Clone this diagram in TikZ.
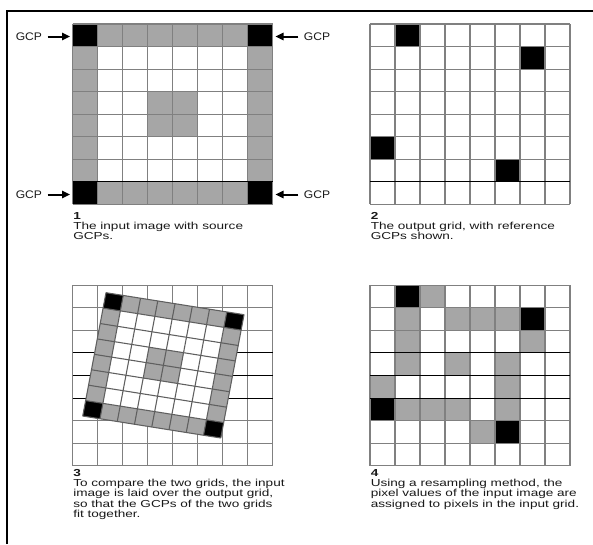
\documentclass[tikz,border=0pt]{standalone}
\usepackage{fontspec}
\usepackage{graphicx}
\newfontfamily\capfont{Liberation Sans}
\usetikzlibrary{arrows.meta}
\definecolor{cellgrey}{RGB}{166,166,166}
\definecolor{gridgrey}{RGB}{128,128,128}
\definecolor{rotgrey}{RGB}{95,95,95}
\definecolor{txt}{RGB}{25,25,25}
\newcommand{\capbox}[1]{\scalebox{1.34}[1]{\fontsize{7.6}{7.5}\selectfont\begin{tabular}[t]{@{}l@{}}#1\end{tabular}}}
\newcommand{\gcptext}{\scalebox{1.1}[1]{GCP}}
\tikzset{
  gridline/.style={draw=gridgrey, line width=0.8pt},
  rotline/.style={draw=rotgrey, line width=0.8pt},
  darkline/.style={draw=black, line width=0.75pt},
  frameline/.style={draw=black, line width=1.5pt},
  gcplabel/.style={font=\capfont\fontsize{8.25}{8.25}\selectfont, text=txt, inner ysep=0pt, inner xsep=4pt},
  gcparrow/.style={line width=1.5pt, -{Triangle[length=6pt,width=5.5pt]}},
  caption/.style={anchor=base west, inner sep=0pt, text=txt, font=\capfont}
}
\begin{document}
\begin{tikzpicture}[x=0.75pt,y=-0.75pt]
\useasboundingbox (0,0) rectangle (593,544);
\fill[white] (0,0) rectangle (593,544);
\draw[frameline] (7,544) -- (7,10.5) -- (593,10.5);

% ---------- panel 1 : input image ----------
\begin{scope}[shift={(72.6,24)}, x={(18.75pt,0pt)}, y={(0pt,-16.91pt)}]
  \fill[cellgrey] (0,0) rectangle (8,8);
  \fill[white] (1,1) rectangle (7,7);
  \fill[cellgrey] (3,3) rectangle (5,5);
  \foreach \c/\r in {0/0,7/0,0/7,7/7} \fill[black] (\c,\r) rectangle ++(1,1);
  \foreach \k in {0,...,8} {\draw[gridline] (\k,0) -- (\k,8); \draw[gridline] (0,\k) -- (8,\k);}
  \draw[darkline] (0,7) -- (8,7);
\end{scope}
\coordinate (tl) at (70,36.5);
\coordinate (bl) at (70,194.5);
\coordinate (tr) at (275.5,36.5);
\coordinate (br) at (275.5,194.5);
\node[gcplabel] (gtl) at (28.9,37) {\gcptext};
\node[gcplabel] (gbl) at (28.9,195) {\gcptext};
\node[gcplabel] (gtr) at (317,37) {\gcptext};
\node[gcplabel] (gbr) at (317,195) {\gcptext};
\draw[gcparrow] (gtl.east |- tl) -- (tl);
\draw[gcparrow] (gbl.east |- bl) -- (bl);
\draw[gcparrow] (gtr.west |- tr) -- (tr);
\draw[gcparrow] (gbr.west |- br) -- (br);
\node[caption] (cap1) at (73,219) {\capbox{\textbf{1}\\The input image with source\\GCPs.}};

% ---------- panel 2 : output grid ----------
\begin{scope}[shift={(370,24)}, x={(18.75pt,0pt)}, y={(0pt,-16.91pt)}]
  \foreach \c/\r in {1/0,6/1,0/5,5/6} \fill[black] (\c,\r) rectangle ++(1,1);
  \foreach \k in {0,...,8} {\draw[gridline] (\k,0) -- (\k,8); \draw[gridline] (0,\k) -- (8,\k);}
  \draw[darkline] (0,7) -- (8,7);
\end{scope}
\node[caption] (cap2) at (370.5,219) {\capbox{\textbf{2}\\The output grid, with reference\\GCPs shown.}};

% ---------- panel 3 : overlay ----------
\begin{scope}[shift={(72.6,285.3)}, x={(18.75pt,0pt)}, y={(0pt,-16.91pt)}]
  \foreach \k in {0,...,8} {\draw[gridline] (\k,0) -- (\k,8); \draw[gridline] (0,\k) -- (8,\k);}
  \foreach \k in {3,4,5} \draw[darkline] (0,\k) -- (8,\k);
\end{scope}
\begin{scope}[shift={(106,292.7)}, x={(12.94pt,-2.06pt)}, y={(-2.18pt,-11.56pt)}]
  \fill[cellgrey] (0,0) -- (8,0) -- (8,8) -- (0,8) -- cycle;
  \fill[white] (1,1) -- (7,1) -- (7,7) -- (1,7) -- cycle;
  \fill[cellgrey] (3,3) -- (5,3) -- (5,5) -- (3,5) -- cycle;
  \foreach \c/\r in {0/0,7/0,0/7,7/7} \fill[black] (\c,\r) -- ++(1,0) -- ++(0,1) -- ++(-1,0) -- cycle;
  \foreach \k in {0,...,8} {\draw[rotline] (\k,0) -- (\k,8); \draw[rotline] (0,\k) -- (8,\k);}
\end{scope}
\node[caption] (cap3) at (73,476) {\capbox{\textbf{3}\\To compare the two grids, the input\\image is laid over the output grid,\\so that the GCPs of the two grids\\fit together.}};

% ---------- panel 4 : resampled ----------
\begin{scope}[shift={(370,285.3)}, x={(18.75pt,0pt)}, y={(0pt,-16.91pt)}]
  \foreach \c/\r in {2/0,1/1,3/1,4/1,5/1,1/2,6/2,1/3,3/3,5/3,0/4,5/4,1/5,2/5,3/5,5/5,4/6}
    \fill[cellgrey] (\c,\r) rectangle ++(1,1);
  \foreach \c/\r in {1/0,6/1,0/5,5/6} \fill[black] (\c,\r) rectangle ++(1,1);
  \foreach \k in {0,...,8} {\draw[gridline] (\k,0) -- (\k,8); \draw[gridline] (0,\k) -- (8,\k);}
  \foreach \k in {3,4,5} \draw[darkline] (0,\k) -- (8,\k);
\end{scope}
\node[caption] (cap4) at (370.5,476) {\capbox{\textbf{4}\\Using a resampling method, the\\pixel values of the input image are\\assigned to pixels in the input grid.}};
\end{tikzpicture}
\end{document}
